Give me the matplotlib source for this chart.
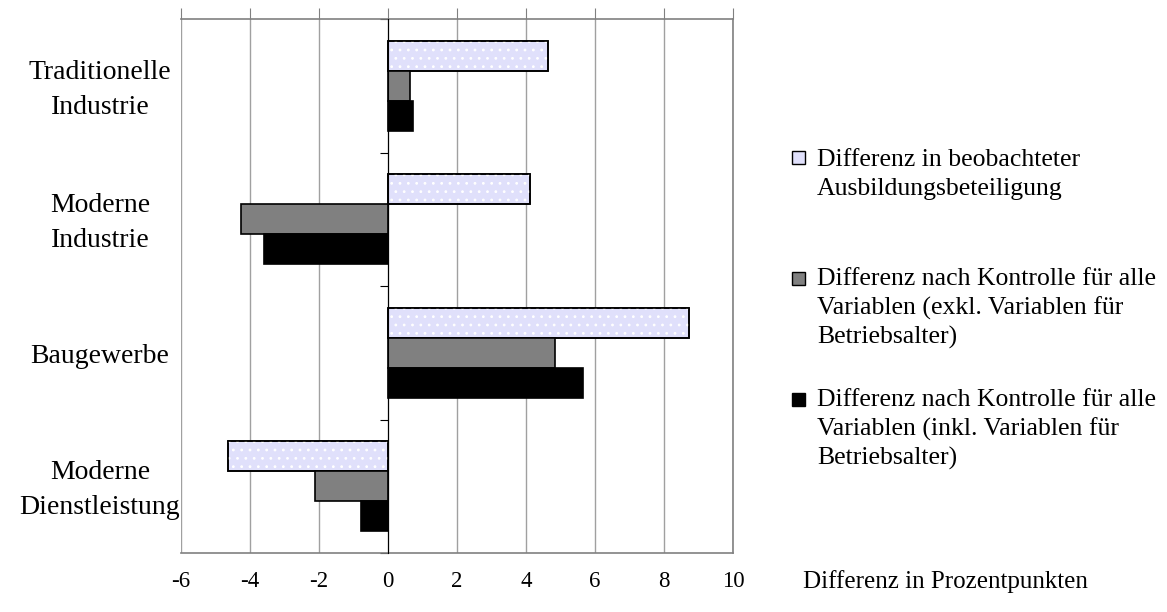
import matplotlib
matplotlib.use("Agg")
import matplotlib.pyplot as plt
from matplotlib.patches import Rectangle
import numpy as np

plt.rcParams['font.family'] = ['Liberation Serif', 'DejaVu Serif']
plt.rcParams['hatch.linewidth'] = 0.8

# sectors, top to bottom
categories = ["Traditionelle\nIndustrie", "Moderne\nIndustrie", "Baugewerbe",
              "Moderne\nDienstleistung"]
# differences in percentage points
observed = [4.65, 4.13, 8.72, -4.65]
ctrl_excl = [0.64, -4.27, 4.85, -2.12]
ctrl_incl = [0.72, -3.6, 5.64, -0.78]

legend_labels = [
    "Differenz in beobachteter\nAusbildungsbeteiligung",
    "Differenz nach Kontrolle für alle\nVariablen (exkl. Variablen für\nBetriebsalter)",
    "Differenz nach Kontrolle für alle\nVariablen (inkl. Variablen für\nBetriebsalter)",
]
xticks = [-6, -4, -2, 0, 2, 4, 6, 8, 10]

LAV = "#e0e0fb"
GREY = "#808080"
W, H = 1167, 612

fig = plt.figure(figsize=(11.67, 6.12), dpi=100)
ax = fig.add_axes([181 / W, 1 - 553 / H, 552 / W, 534 / H])

y = np.arange(len(categories))
h = 0.225

ax.barh(y - h, observed, height=h, color=LAV, edgecolor="black", lw=1.2, zorder=3)
# white dotted texture on the light bars
ax.barh(y - h, observed, height=h, fill=False, hatch="..", edgecolor="white", lw=0, zorder=3)
ax.barh(y - h, observed, height=h, fill=False, edgecolor="black", lw=1.2, zorder=3)
ax.barh(y, ctrl_excl, height=h, color=GREY, edgecolor="black", lw=1.2, zorder=3)
ax.barh(y + h, ctrl_incl, height=h, color="black", edgecolor="black", lw=1.2, zorder=3)

ax.set_xlim(-6, 10)
ax.set_ylim(len(categories) - 0.5, -0.5)
ax.set_xticks(xticks)
ax.set_xticklabels([str(t) for t in xticks], fontsize=16.5)
ax.tick_params(axis="x", top=True, bottom=False, labeltop=False, labelbottom=True,
               direction="out", length=8, color=GREY, pad=5)
ax.grid(axis="x", color="#a0a0a0", lw=1, zorder=0)

# value axis at zero with ticks between the sectors
ax.spines["left"].set_position(("data", 0))
ax.spines["left"].set_color("black")
ax.spines["left"].set_zorder(4)
ax.set_yticks(np.arange(-0.5, len(categories), 1.0))
ax.set_yticklabels([])
ax.tick_params(axis="y", direction="out", length=6, color="black")
for s in ["top", "bottom", "right"]:
    ax.spines[s].set_color(GREY)
    ax.spines[s].set_linewidth(1.2)

for yi, name in zip(y, categories):
    ax.text(-0.147, yi + 0.03, name, transform=ax.get_yaxis_transform(), ha="center",
            va="center", fontsize=20, multialignment="center", linespacing=1.54)

ax.text((803 - 181) / 552, -(588 - 553) / 534, "Differenz in Prozentpunkten",
        transform=ax.transAxes, ha="left", va="baseline", fontsize=18)

# legend: square beside the first line, baseline set on the last line
colors = [LAV, GREY, "black"]
first_baselines = [166, 287, 408]
step = 28.5
for c, lab, b in zip(colors, legend_labels, first_baselines):
    n = lab.count("\n")
    fig.patches.append(Rectangle((792 / W, 1 - (b - 2) / H), 13 / W, 13 / H,
                                 transform=fig.transFigure, facecolor=c,
                                 edgecolor="black", lw=1))
    fig.text(817 / W, 1 - (b + n * step) / H, lab, ha="left", va="baseline",
             fontsize=18.5, linespacing=1.37)

fig.savefig("out.png", dpi=100)
